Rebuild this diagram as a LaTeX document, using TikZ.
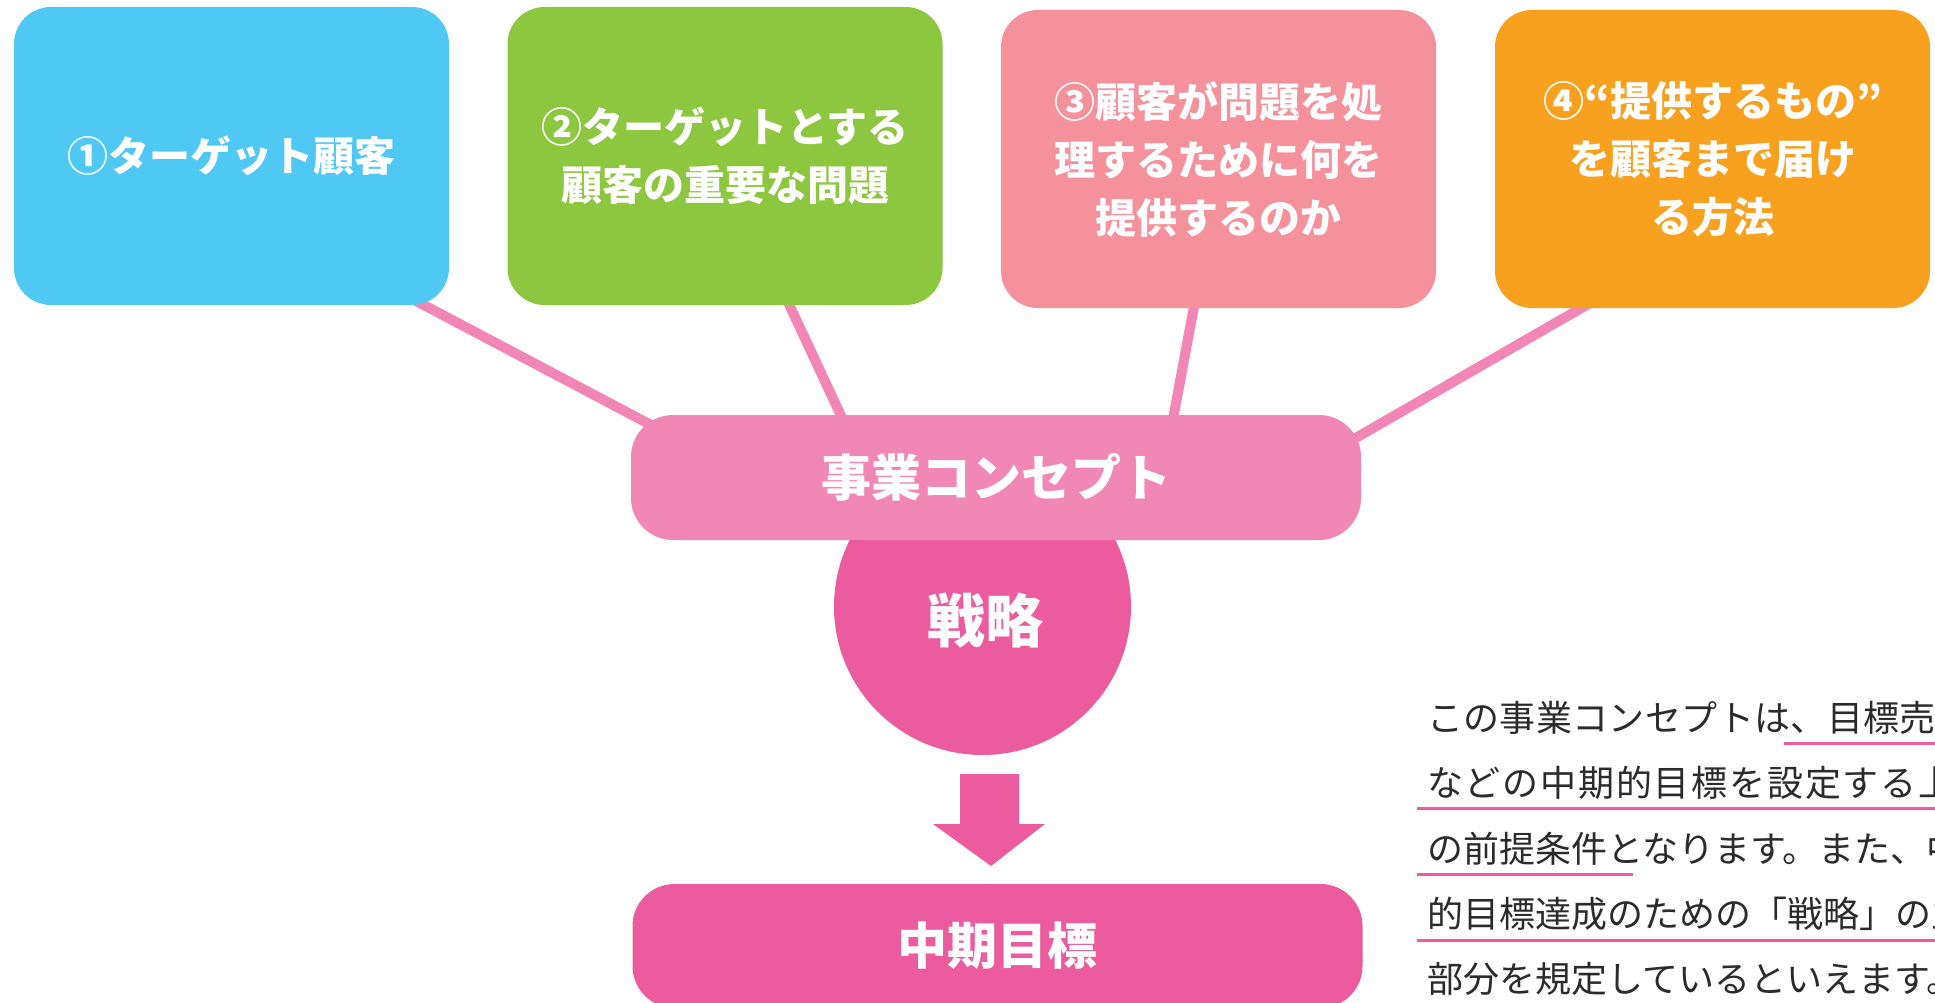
\documentclass[tikz,border=0pt]{standalone}
\usepackage{fontspec}
\newfontfamily\jp{Noto Sans CJK JP}
\usetikzlibrary{backgrounds}
\definecolor{cblue}{HTML}{4FC9F4}
\definecolor{cgreen}{HTML}{8DC63F}
\definecolor{crose}{HTML}{F5919A}
\definecolor{corange}{HTML}{F8A11F}
\definecolor{cconc}{HTML}{F087B4}
\definecolor{clink}{HTML}{F287B6}
\definecolor{cdeep}{HTML}{EC5B9E}
\definecolor{ctext}{HTML}{2B2B2B}
\begin{document}
\begin{tikzpicture}[x=1pt,y=-1pt,
  card/.style={rectangle, rounded corners=37pt, minimum width=435pt, minimum height=298pt, inner sep=0pt, text=white, align=center, font=\jp\bfseries\fontsize{41}{58}\selectfont},
  bar/.style={rectangle, rounded corners=42pt, minimum width=730pt, minimum height=125pt, inner sep=0pt, text=white, font=\jp\bfseries\fontsize{50}{60}\selectfont},
  link/.style={draw=clink, line width=10pt},
  body/.style={anchor=west, inner sep=0pt, text=ctext, font=\jp\fontsize{36}{40}\selectfont},
  uline/.style={draw=cdeep, line width=3pt}]
\useasboundingbox (0,0) rectangle (1935,1003);
\clip (0,0) rectangle (1935,1003);

% top cards
\node[card, fill=cblue]   (b1) at (231.5,156) {①ターゲット顧客};
\node[card, fill=cgreen]  (b2) at (725,156)   {②ターゲットとする\\顧客の重要な問題};
\node[card, fill=crose]   (b3) at (1218.5,159) {③顧客が問題を処\\理するために何を\\提供するのか};
\node[card, fill=corange] (b4) at (1712.5,159) {④“提供するもの”\\を顧客まで届け\\る方法};

% concept bar
\node[bar, fill=cconc] (concept) at (996,477.5) {事業コンセプト};

% background: white page, strategy circle and links (behind the bar and cards)
\begin{pgfonlayer}{background}
  \fill[white] (0,0) rectangle (1935,1003);
  \node[circle, fill=cdeep, minimum size=297pt, inner sep=0pt] (strat) at (982.5,606.5) {};
  \coordinate (l1s) at (402,293.5);  \coordinate (l1e) at (670,435);
  \coordinate (l2s) at (780,285);    \coordinate (l2e) at (850,435);
  \coordinate (l3s) at (1198,285);   \coordinate (l3e) at (1170,435);
  \coordinate (l4s) at (1604,295);   \coordinate (l4e) at (1340,447);
  \draw[link] (l1s) -- (l1e);
  \draw[link] (l2s) -- (l2e);
  \draw[link] (l3s) -- (l3e);
  \draw[link] (l4s) -- (l4e);
\end{pgfonlayer}
\node[text=white, font=\jp\bfseries\fontsize{58}{60}\selectfont, inner sep=0pt] (stratlbl) at (985,621) {戦略};

% block arrow
\coordinate (ar) at (990,774);
\fill[cdeep, shift={(ar)}] (-30,0) -- (29,0) -- (29,50) -- (55,50) -- (1,92) -- (-57,50) -- (-30,50) -- cycle;

% goal bar
\node[bar, fill=cdeep, minimum height=124pt] (goal) at (997.5,946) {中期目標};

% explanatory text
\node[body] (t1) at (1427,718) {\addfontfeature{LetterSpace=1}この事業コンセプトは、目標売上高};
\node[body] (t2) at (1427,783) {\addfontfeature{LetterSpace=5}などの中期的目標を設定する上で};
\node[body] (t3) at (1427,849) {の前提条件となります。また、中期};
\node[body] (t4) at (1427,914) {的目標達成のための「戦略」の主要};
\node[body] (t5) at (1427,979) {部分を規定しているといえます。};

\coordinate (u1a) at (1784,743); \coordinate (u1b) at (1935,743);
\coordinate (u2a) at (1417,808); \coordinate (u2b) at (1935,808);
\coordinate (u3a) at (1417,874); \coordinate (u3b) at (1633,874);
\coordinate (u4a) at (1417,940); \coordinate (u4b) at (1935,940);
\draw[uline] (u1a) -- (u1b);
\draw[uline] (u2a) -- (u2b);
\draw[uline] (u3a) -- (u3b);
\draw[uline] (u4a) -- (u4b);
\end{tikzpicture}
\end{document}
